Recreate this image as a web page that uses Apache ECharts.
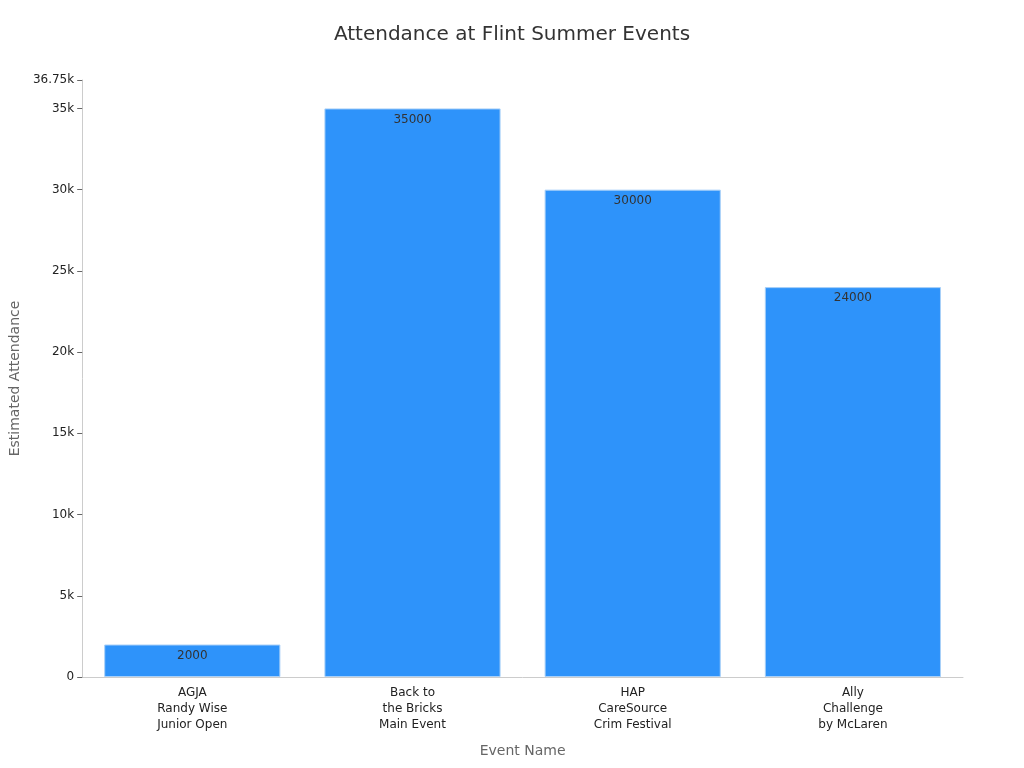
<!DOCTYPE html>
<html>
<head>
<meta charset="utf-8">
<script src="https://cdn.jsdelivr.net/npm/echarts@6/dist/echarts.min.js"></script>
<style>html,body{margin:0;padding:0;background:#fff}#chart{width:1024px;height:768px}</style>
</head>
<body>
<div id="chart"></div>
<script>
var categories = ['AGJA\nRandy Wise\nJunior Open', 'Back to\nthe Bricks\nMain Event', 'HAP\nCareSource\nCrim Festival', 'Ally\nChallenge\nby McLaren'];
var attendance = [2000, 35000, 30000, 24000];

var myChart = echarts.init(document.getElementById('chart'));
var option = {
    textStyle: { fontFamily: 'DejaVu Sans' },
    title: {
        text: 'Attendance at Flint Summer Events',
        left: 'center',
        top: 20,
        textStyle: { fontSize: 20, fontWeight: 'normal', color: '#333' }
    },
    grid: { left: 67, right: 61, top: 80, bottom: 91 },
    xAxis: {
        type: 'category',
        data: categories,
        name: 'Event Name',
        nameLocation: 'middle',
        nameGap: 67,
        nameTextStyle: { fontSize: 14, color: '#666' },
        axisLine: { lineStyle: { color: '#ccc' } },
        axisTick: { show: false },
        axisLabel: { color: '#222', fontSize: 12, lineHeight: 16 }
    },
    yAxis: {
        type: 'value',
        min: 0,
        max: 36750,
        interval: 5000,
        name: 'Estimated Attendance',
        nameLocation: 'middle',
        nameGap: 52,
        nameTextStyle: { fontSize: 14, color: '#666' },
        axisLine: { show: true, lineStyle: { color: '#ccc' } },
        axisTick: { show: true, lineStyle: { color: '#666' } },
        splitLine: { show: false },
        axisLabel: {
            color: '#222', fontSize: 12,
            formatter: function (v) { return v === 0 ? '0' : (v / 1000) + 'k'; }
        }
    },
    series: [{
        type: 'bar',
        data: attendance,
        barCategoryGap: '20%',
        itemStyle: { color: '#2E93FA', borderColor: '#A9D0F8', borderWidth: 1 },
        label: { show: true, position: 'insideTop', color: '#333', fontSize: 12 }
    }]
};
option && myChart.setOption(option);
</script>
</body>
</html>
